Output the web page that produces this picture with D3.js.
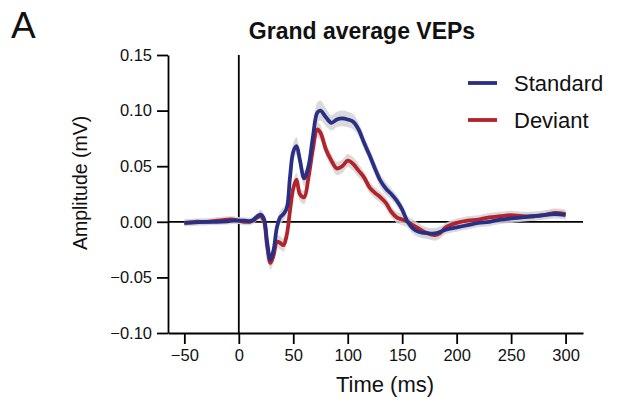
<!DOCTYPE html>
<html>
<head>
<meta charset="utf-8">
<script src="https://cdn.jsdelivr.net/npm/d3@7"></script>
<style>
  body { margin: 0; background: #fff; }
  text { font-family: "Liberation Sans", Arial, sans-serif; fill: #111; }
</style>
</head>
<body>
<div id="chart"></div>
<script>
// time points (ms)
var times = [-50, -40, -30, -20, -10, -5, 0, 5, 10, 13, 17, 20, 23, 26, 29, 32, 35, 38, 41, 44, 47, 50, 53, 56, 60, 64, 68, 72, 75, 80, 85, 90, 95, 100, 105, 110, 115, 120, 125, 130, 135, 140, 145, 150, 155, 160, 165, 170, 175, 180, 185, 190, 200, 210, 220, 230, 240, 250, 260, 270, 280, 290, 300];

// grand average amplitudes (mV)
var standard = [-0.001, -0.0005, 0.000, 0.000, 0.0005, 0.001, 0.001, 0.001, 0.0005, 0.0015, 0.005, 0.0065, 0.003, -0.018, -0.034, -0.025, -0.005, 0.004, 0.007, 0.012, 0.040, 0.063, 0.068, 0.056, 0.039, 0.050, 0.076, 0.098, 0.100, 0.094, 0.089, 0.092, 0.093, 0.092, 0.090, 0.083, 0.071, 0.060, 0.048, 0.037, 0.030, 0.025, 0.019, 0.011, 0.000, -0.006, -0.009, -0.010, -0.0105, -0.0105, -0.009, -0.007, -0.005, -0.003, -0.001, 0.000, 0.002, 0.003, 0.004, 0.005, 0.006, 0.007, 0.006];
var deviant = [-0.001, 0.000, 0.000, 0.001, 0.002, 0.002, 0.001, 0.000, 0.000, 0.001, 0.004, 0.005, 0.001, -0.022, -0.037, -0.030, -0.018, -0.019, -0.021, -0.012, 0.010, 0.030, 0.038, 0.025, 0.022, 0.040, 0.065, 0.083, 0.080, 0.065, 0.055, 0.048, 0.050, 0.055, 0.052, 0.046, 0.040, 0.031, 0.026, 0.022, 0.017, 0.009, 0.004, 0.002, 0.000, -0.003, -0.006, -0.009, -0.011, -0.012, -0.010, -0.005, -0.001, 0.001, 0.002, 0.004, 0.005, 0.006, 0.005, 0.005, 0.006, 0.008, 0.007];

// standard error bands (mV)
var semStandard = [0.003, 0.003, 0.003, 0.003, 0.003, 0.003, 0.003, 0.003, 0.003, 0.003, 0.003, 0.004, 0.004, 0.005, 0.006, 0.006, 0.006, 0.006, 0.006, 0.006, 0.007, 0.008, 0.008, 0.007, 0.007, 0.007, 0.008, 0.009, 0.009, 0.008, 0.007, 0.007, 0.007, 0.007, 0.007, 0.006, 0.006, 0.006, 0.006, 0.006, 0.006, 0.005, 0.005, 0.005, 0.005, 0.005, 0.005, 0.005, 0.005, 0.005, 0.005, 0.004, 0.004, 0.004, 0.004, 0.004, 0.004, 0.004, 0.004, 0.004, 0.004, 0.004, 0.004];
var semDeviant = [0.003, 0.003, 0.003, 0.003, 0.003, 0.003, 0.003, 0.003, 0.003, 0.003, 0.003, 0.004, 0.004, 0.005, 0.006, 0.006, 0.006, 0.006, 0.006, 0.006, 0.006, 0.006, 0.006, 0.006, 0.006, 0.006, 0.007, 0.007, 0.007, 0.006, 0.006, 0.006, 0.006, 0.006, 0.006, 0.006, 0.005, 0.005, 0.005, 0.005, 0.005, 0.005, 0.005, 0.005, 0.005, 0.005, 0.005, 0.005, 0.005, 0.005, 0.005, 0.004, 0.004, 0.004, 0.004, 0.004, 0.004, 0.004, 0.004, 0.004, 0.004, 0.004, 0.004];

var xTicks = [-50, 0, 50, 100, 150, 200, 250, 300];
var yTicks = [-0.10, -0.05, 0.00, 0.05, 0.10, 0.15];
var seriesNames = ["Standard", "Deviant"];
var seriesColors = ["#2a2f86", "#b2232b"];

var svgWidth = 617;
var svgHeight = 403;

var svg = d3.select("#chart")
  .append("svg")
  .attr("width", svgWidth)
  .attr("height", svgHeight);

// scales
var x = d3.scaleLinear().domain([-65, 316]).range([168, 583]);
var y = d3.scaleLinear().domain([-0.10, 0.15]).range([333, 55]);

// panel letter and title
svg.append("text")
  .attr("x", 11)
  .attr("y", 38)
  .attr("font-size", 37)
  .text("A");

svg.append("text")
  .attr("x", 362)
  .attr("y", 39)
  .attr("text-anchor", "middle")
  .attr("font-size", 23)
  .attr("font-weight", "bold")
  .text("Grand average VEPs");

// reference lines at 0 ms and 0 mV
svg.append("line")
  .attr("x1", x(0)).attr("x2", x(0))
  .attr("y1", y(0.15)).attr("y2", y(-0.10))
  .attr("stroke", "#000").attr("stroke-width", 1.8);

svg.append("line")
  .attr("x1", x(-65)).attr("x2", x(316))
  .attr("y1", y(0)).attr("y2", y(0))
  .attr("stroke", "#000").attr("stroke-width", 1.8);

// bands then lines
var data = [
  { name: seriesNames[0], color: seriesColors[0], values: standard, sem: semStandard },
  { name: seriesNames[1], color: seriesColors[1], values: deviant, sem: semDeviant }
];

var band = d3.area()
  .x((d, i) => x(times[i]))
  .y0((d, i) => y(d.v - d.s))
  .y1((d, i) => y(d.v + d.s))
  .curve(d3.curveCatmullRom.alpha(0.5));

var line = d3.line()
  .x((d, i) => x(times[i]))
  .y(d => y(d))
  .curve(d3.curveCatmullRom.alpha(0.5));

data.forEach(function(s) {
  svg.append("path")
    .datum(s.values.map((v, i) => ({ v: v, s: s.sem[i] })))
    .attr("d", band)
    .attr("fill", "#d4d4d4")
    .attr("opacity", 0.85);
});

// draw red first so blue sits on top
data.slice().reverse().forEach(function(s) {
  svg.append("path")
    .datum(s.values)
    .attr("d", line)
    .attr("fill", "none")
    .attr("stroke", s.color)
    .attr("stroke-width", 3.8)
    .attr("stroke-linejoin", "round");
});

// axes
var xAxis = svg.append("g")
  .attr("transform", `translate(0, ${y(-0.10)})`)
  .call(d3.axisBottom(x).tickValues(xTicks).tickSize(11).tickSizeOuter(0).tickPadding(5));

var yAxis = svg.append("g")
  .attr("transform", `translate(${x(-65)}, 0)`)
  .call(d3.axisLeft(y).tickValues(yTicks).tickSize(11).tickSizeOuter(0).tickPadding(5)
    .tickFormat(d3.format(".2f")));

[xAxis, yAxis].forEach(function(g) {
  g.selectAll("path, line").attr("stroke", "#000").attr("stroke-width", 1.8);
  g.selectAll("text")
    .attr("font-size", 16.5)
    .attr("font-family", "'Liberation Sans', Arial, sans-serif")
    .attr("fill", "#111");
});

// axis titles
svg.append("text")
  .attr("x", 385)
  .attr("y", 392)
  .attr("text-anchor", "middle")
  .attr("font-size", 22)
  .text("Time (ms)");

svg.append("text")
  .attr("transform", `translate(87, ${y(0.035)}) rotate(-90)`)
  .attr("text-anchor", "middle")
  .attr("font-size", 19.5)
  .text("Amplitude (mV)");

// legend
var legend = svg.append("g");
data.forEach(function(s, i) {
  var ly = 83 + i * 37;
  legend.append("line")
    .attr("x1", 468).attr("x2", 497)
    .attr("y1", ly).attr("y2", ly)
    .attr("stroke", s.color)
    .attr("stroke-width", 3.8);
  legend.append("text")
    .attr("x", 514)
    .attr("y", ly + 8)
    .attr("font-size", 22)
    .text(s.name);
});
</script>
</body>
</html>
